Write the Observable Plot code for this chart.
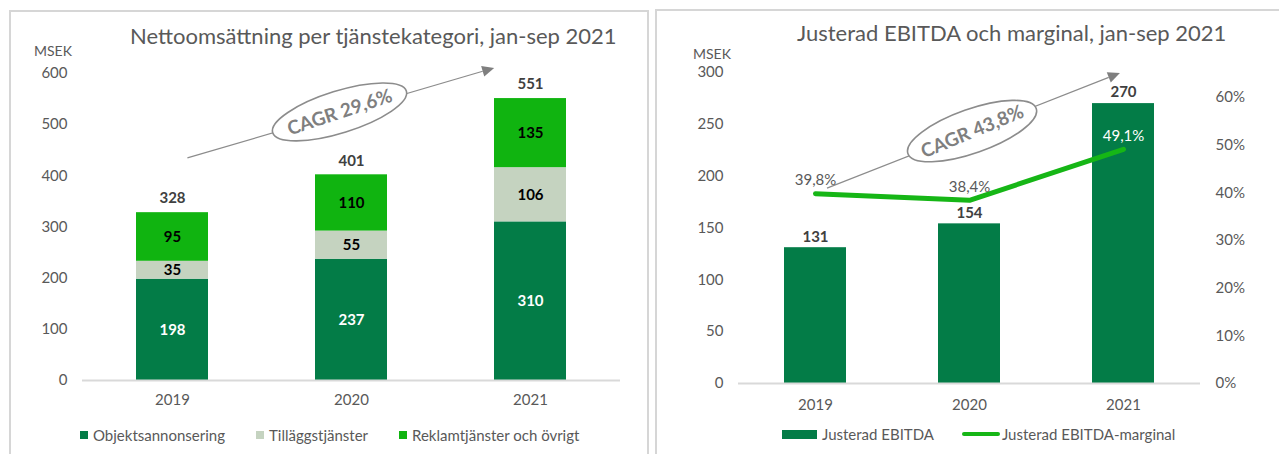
<!DOCTYPE html>
<html><head><meta charset="utf-8">
<script src="https://cdn.jsdelivr.net/npm/d3@7"></script>
<script src="https://cdn.jsdelivr.net/npm/@observablehq/plot@0.6"></script>
<style>
body{margin:0;background:#fff;font-family:Lato,"Open Sans",sans-serif;}
#page{position:relative;width:1279px;height:454px;overflow:hidden;background:#fff;}
.panel{position:absolute;border:2px solid #d6d6d6;box-sizing:border-box;}
.title{position:absolute;color:#595959;font-size:22px;line-height:22px;white-space:nowrap;}
.unit{position:absolute;color:#595959;font-size:14px;line-height:14px;}
.legend{position:absolute;display:flex;align-items:center;color:#595959;font-size:15px;line-height:16px;white-space:nowrap;}
.legend .sw{display:inline-block;margin-right:5px;}
.legend .item{display:flex;align-items:center;}
.chart{position:absolute;}
</style></head>
<body><div id="page">
<div class="panel" style="left:9px;top:10px;width:640px;height:470px"></div>
<div class="panel" style="left:655px;top:9px;width:640px;height:470px"></div>
<div class="title" id="t1" style="left:130px;top:25px"></div>
<div class="title" id="t2" style="left:797px;top:22px"></div>
<div class="unit" id="u1" style="left:34px;top:44px"></div>
<div class="unit" id="u2" style="left:693px;top:47px"></div>
<div class="chart" id="c1" style="left:10px;top:55px"></div>
<div class="chart" id="c2" style="left:656px;top:55px"></div>
<div class="legend" id="l1" style="left:80px;top:427px"></div>
<div class="legend" id="l2" style="left:782px;top:426px"></div>
</div>
<script>
// ---------- data ----------
const title1 = "Nettoomsättning per tjänstekategori, jan-sep 2021";
const title2 = "Justerad EBITDA och marginal, jan-sep 2021";
const unitLabel = "MSEK";
const years = ["2019", "2020", "2021"];
const revCategories = ["Objektsannonsering", "Tilläggstjänster", "Reklamtjänster och övrigt"];
const objektsannonsering = [198, 237, 310];
const tillaggstjanster = [35, 55, 106];
const reklamtjanster = [95, 110, 135];
const revTotals = [328, 401, 551];
const revTicks = [0, 100, 200, 300, 400, 500, 600];
const revCagr = "CAGR 29,6%";

const ebitdaSeries = ["Justerad EBITDA", "Justerad EBITDA-marginal"];
const ebitda = [131, 154, 270];
const ebitdaMargin = [39.8, 38.4, 49.1];
const ebitdaTicks = [0, 50, 100, 150, 200, 250, 300];
const marginTicks = [0, 10, 20, 30, 40, 50, 60];
const marginAxisMax = 65.2; // secondary axis top (%), aligned with 300 MSEK
const ebitdaCagr = "CAGR 43,8%";

// annotation anchors: [category, offset in category steps, value]
const revArrow = {from: ["2019", 0.086, 434], to: ["2021", -0.2, 610], center: ["2020", -0.064, 524]};
const ebitdaArrow = {from: ["2019", 0.078, 188], to: ["2021", -0.02, 299], center: ["2020", 0.02, 243]};

// ---------- styles ----------
const C_DARK = "#037c47", C_LIGHT = "#c5d3c0", C_BRIGHT = "#10b410", C_LINE = "#16b616";
const revColors = {[revCategories[0]]: C_DARK, [revCategories[1]]: C_LIGHT, [revCategories[2]]: C_BRIGHT};
const revLabelColors = {[revCategories[0]]: "#ffffff", [revCategories[1]]: "#000000", [revCategories[2]]: "#000000"};
const baseStyle = {fontFamily: "Lato, 'Open Sans', sans-serif", fontSize: "15px", color: "#595959", background: "transparent", overflow: "visible"};
const fmt1 = v => v.toFixed(1).replace(".", ",") + "%";

function cagrMark(spec, text, opt) {
  return (index, scales) => {
    const x = scales.x, y = scales.y;
    const step = x(years[1]) - x(years[0]);
    const bw = typeof x.bandwidth === "function" ? x.bandwidth() : step * 0.4;
    const px = (c, o) => x(c) + bw / 2 + o * step;
    const x1 = px(spec.from[0], spec.from[1]), y1 = y(spec.from[2]);
    const x2 = px(spec.to[0], spec.to[1]), y2 = y(spec.to[2]);
    const cx = px(spec.center[0], spec.center[1]), cy = y(spec.center[2]);
    const ang = Math.atan2(y2 - y1, x2 - x1);
    const deg = ang * 180 / Math.PI;
    const g = d3.create("svg:g");
    const hl = 12, hw = 5.5;
    const bx = x2 - hl * Math.cos(ang), by = y2 - hl * Math.sin(ang);
    g.append("line").attr("x1", x1).attr("y1", y1).attr("x2", bx).attr("y2", by)
      .attr("stroke", "#8c8c8c").attr("stroke-width", 1.2);
    g.append("path").attr("fill", "#7f7f7f")
      .attr("d", `M${x2},${y2}L${bx + hw * Math.sin(ang)},${by - hw * Math.cos(ang)}L${bx - hw * Math.sin(ang)},${by + hw * Math.cos(ang)}Z`);
    const e = g.append("g").attr("transform", `translate(${cx},${cy}) rotate(${deg + opt.extra})`);
    e.append("ellipse").attr("rx", opt.rx).attr("ry", opt.ry).attr("fill", "#fff")
      .attr("stroke", "#8c8c8c").attr("stroke-width", 1.6);
    e.append("text").attr("text-anchor", "middle").attr("dy", "0.36em")
      .attr("font-size", opt.fs).attr("font-weight", "bold").attr("fill", "#7f7f7f")
      .attr("transform", `rotate(${opt.textExtra})`).text(text);
    return g.node();
  };
}

// ---------- chart 1 ----------
const revSeries = [objektsannonsering, tillaggstjanster, reklamtjanster];
const revData = years.flatMap((yr, i) => revCategories.map((cat, j) => ({year: yr, cat, value: revSeries[j][i]})));

const chart1 = Plot.plot({
  width: 636, height: 365,
  marginLeft: 72, marginRight: 26, marginTop: 18, marginBottom: 40,
  x: {domain: years, paddingInner: 0.6, paddingOuter: 0.3, label: null},
  y: {domain: [0, 600], label: null},
  color: {type: "identity"},
  style: baseStyle,
  marks: [
    Plot.axisY(revTicks, {tickSize: 0, tickPadding: 15, label: null, fontSize: 15}),
    Plot.axisX({tickSize: 0, tickPadding: 14, label: null, fontSize: 15}),
    Plot.barY(revData, {x: "year", y: "value", fill: d => revColors[d.cat]}),
    Plot.ruleY([0], {stroke: "#d9d9d9", strokeWidth: 2}),
    Plot.text(revData, Plot.stackY({x: "year", y: "value", text: d => String(d.value),
      fill: d => revLabelColors[d.cat], fontWeight: "bold", fontSize: 15})),
    Plot.text(years, {x: d => d, y: (d, i) => revTotals[i], text: (d, i) => String(revTotals[i]),
      dy: -14, fontWeight: "bold", fontSize: 15, fill: "#404040"}),
    cagrMark(revArrow, revCagr, {rx: 70, ry: 21, fs: 19, extra: -1, textExtra: -1})
  ]
});
document.getElementById("c1").append(chart1);

// ---------- chart 2 ----------
const k = 300 / marginAxisMax;
const chart2 = Plot.plot({
  width: 610, height: 365,
  marginLeft: 82, marginRight: 66, marginTop: 17, marginBottom: 37,
  x: {domain: years, paddingInner: 0.6, paddingOuter: 0.3, label: null},
  y: {domain: [0, 300], label: null},
  color: {type: "identity"},
  style: baseStyle,
  marks: [
    Plot.axisY(ebitdaTicks, {anchor: "left", tickSize: 0, tickPadding: 15, label: null, fontSize: 15}),
    Plot.axisY(marginTicks.map(t => t * k), {anchor: "right", tickSize: 0, tickPadding: 15, label: null,
      fontSize: 15, tickFormat: d => Math.round(d / k) + "%"}),
    Plot.axisX({tickSize: 0, tickPadding: 16, label: null, fontSize: 15}),
    Plot.barY(years, {x: d => d, y: (d, i) => ebitda[i], fill: C_DARK}),
    Plot.ruleY([0], {stroke: "#d9d9d9", strokeWidth: 2}),
    Plot.text(years, {x: d => d, y: (d, i) => ebitda[i], text: (d, i) => String(ebitda[i]),
      dy: -11, fontWeight: "bold", fontSize: 15, fill: "#404040"}),
    cagrMark(ebitdaArrow, ebitdaCagr, {rx: 68, ry: 22, fs: 19, extra: 2, textExtra: -3}),
    Plot.line(years, {x: d => d, y: (d, i) => ebitdaMargin[i] * k, stroke: C_LINE, strokeWidth: 5,
      strokeLinecap: "round", strokeLinejoin: "round"}),
    Plot.text(years, {x: d => d, y: (d, i) => ebitdaMargin[i] * k, text: (d, i) => fmt1(ebitdaMargin[i]),
      dy: -13, fontSize: 15, fill: (d, i) => i === 2 ? "#ffffff" : "#595959"})
  ]
});
document.getElementById("c2").append(chart2);

// ---------- titles, units, legends ----------
document.getElementById("t1").textContent = title1;
document.getElementById("t2").textContent = title2;
document.getElementById("u1").textContent = unitLabel;
document.getElementById("u2").textContent = unitLabel;

const l1 = document.getElementById("l1");
revCategories.forEach((cat, i) => {
  const it = document.createElement("span");
  it.className = "item";
  if (i > 0) it.style.marginLeft = "31px";
  const sw = document.createElement("span");
  sw.className = "sw";
  sw.style.cssText = `width:8px;height:8px;background:${revColors[cat]}`;
  it.append(sw, document.createTextNode(cat));
  l1.append(it);
});
const l2 = document.getElementById("l2");
ebitdaSeries.forEach((s, i) => {
  const it = document.createElement("span");
  it.className = "item";
  if (i > 0) it.style.marginLeft = "28px";
  const sw = document.createElement("span");
  sw.className = "sw";
  sw.style.cssText = i === 0 ? `width:35px;height:9px;background:${C_DARK}` :
    `width:38px;height:4px;border-radius:2px;background:${C_LINE};margin-right:2px`;
  it.append(sw, document.createTextNode(s));
  l2.append(it);
});
</script>
</body></html>
